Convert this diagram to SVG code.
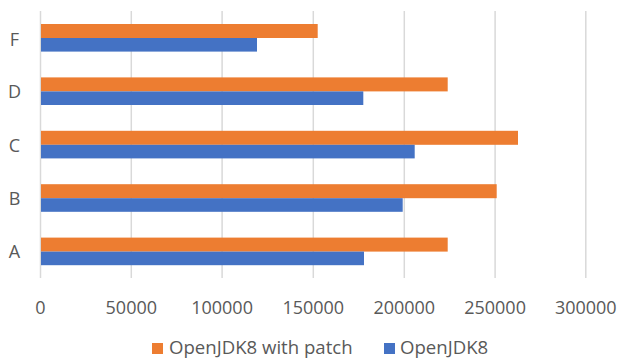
<svg xmlns="http://www.w3.org/2000/svg" width="617" height="360" viewBox="0 0 617 360">
  <style>
    .grid { stroke: #d9d9d9; stroke-width: 1.5; }
    .lbl { font-family: "Open Sans", "Liberation Sans", sans-serif; font-size: 18px; fill: #595959; }
    .tick { text-anchor: middle; }
    .cat { text-anchor: middle; }
    .leg { font-size: 18.6px; }
    .patch { fill: #ED7D31; }
    .base { fill: #4472C4; }
  </style>
  <rect width="617" height="360" fill="#ffffff"/>

  <!-- vertical gridlines every 50000 -->
  <g id="grid">
    <line class="grid" x1="40.5" y1="11" x2="40.5" y2="278"/>
    <line class="grid" x1="131.3" y1="11" x2="131.3" y2="278"/>
    <line class="grid" x1="222.1" y1="11" x2="222.1" y2="278"/>
    <line class="grid" x1="313.3" y1="11" x2="313.3" y2="278"/>
    <line class="grid" x1="404.3" y1="11" x2="404.3" y2="278"/>
    <line class="grid" x1="495.1" y1="11" x2="495.1" y2="278"/>
    <line class="grid" x1="585.8" y1="11" x2="585.8" y2="278"/>
  </g>

  <!-- x-axis tick labels -->
  <g id="x-axis">
    <text class="lbl tick" x="40.5" y="313.5">0</text>
    <text class="lbl tick" x="131.3" y="313.5">50000</text>
    <text class="lbl tick" x="222.1" y="313.5">100000</text>
    <text class="lbl tick" x="313.3" y="313.5">150000</text>
    <text class="lbl tick" x="404.3" y="313.5">200000</text>
    <text class="lbl tick" x="495.1" y="313.5">250000</text>
    <text class="lbl tick" x="585.8" y="313.5">300000</text>
  </g>

  <!-- category labels -->
  <g id="y-axis">
    <text class="lbl cat" x="14.5" y="45.5">F</text>
    <text class="lbl cat" x="14.5" y="97.8">D</text>
    <text class="lbl cat" x="14.5" y="151.5">C</text>
    <text class="lbl cat" x="14.5" y="204.5">B</text>
    <text class="lbl cat" x="14.5" y="258">A</text>
  </g>

  <!-- bars: orange = with patch, blue = baseline -->
  <g id="series-patch">
    <rect class="patch" x="41" y="24" width="276.7" height="14"/>
    <rect class="patch" x="41" y="77.4" width="406.7" height="14"/>
    <rect class="patch" x="41" y="130.8" width="477" height="14"/>
    <rect class="patch" x="41" y="184.2" width="455.7" height="14"/>
    <rect class="patch" x="41" y="237.6" width="406.7" height="14"/>
  </g>
  <g id="series-base">
    <rect class="base" x="41" y="38" width="216" height="13.6"/>
    <rect class="base" x="41" y="91.4" width="322.3" height="13.6"/>
    <rect class="base" x="41" y="144.8" width="373.7" height="13.6"/>
    <rect class="base" x="41" y="198.2" width="361.7" height="13.6"/>
    <rect class="base" x="41" y="251.6" width="323" height="13.6"/>
  </g>

  <!-- legend -->
  <g id="legend">
    <rect class="patch" x="152" y="343" width="11" height="11"/>
    <text class="lbl leg" x="169" y="354">OpenJDK8 with patch</text>
    <rect class="base" x="384" y="343" width="11" height="11"/>
    <text class="lbl leg" x="400" y="354">OpenJDK8</text>
  </g>
</svg>
